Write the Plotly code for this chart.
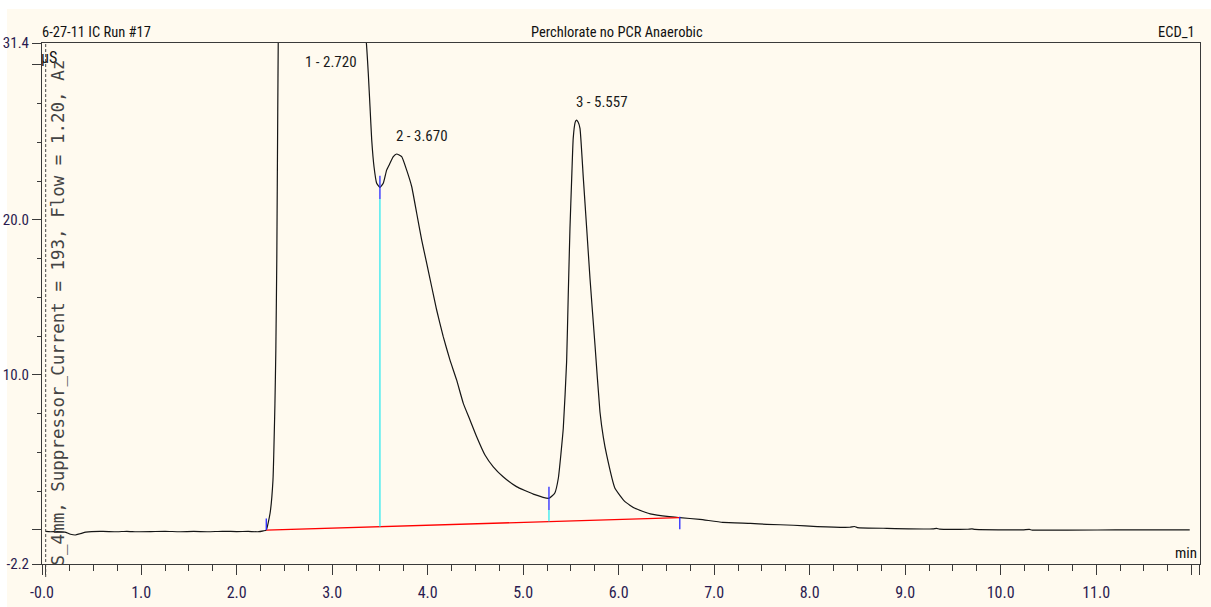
import numpy as np
import plotly.graph_objects as go

# ---------------- data ----------------
time_min = [0.00, 0.05, 0.12, 0.20, 0.26, 0.31, 0.36, 0.42, 0.48, 0.60, 0.75, 0.85, 0.95,
            1.10, 1.25, 1.40, 1.55, 1.70, 1.85, 2.00, 2.12, 2.22, 2.28, 2.31,
            2.35, 2.38, 2.40, 2.41, 2.42, 2.43, 2.435, 2.44, 2.47, 2.55, 2.72, 2.90, 3.10, 3.25, 3.32,
            3.358, 3.378, 3.396, 3.414, 3.438, 3.466, 3.50, 3.535, 3.57, 3.605, 3.64, 3.675, 3.728,
            3.78, 3.833, 3.885, 3.937, 3.99, 4.042, 4.094, 4.163, 4.233, 4.303, 4.373, 4.443, 4.513,
            4.60, 4.687, 4.79, 4.93, 5.106, 5.27,
            5.33, 5.368, 5.42, 5.455, 5.472, 5.49, 5.508, 5.524, 5.545, 5.557, 5.575, 5.595, 5.63,
            5.665, 5.70, 5.752, 5.804, 5.84, 5.874, 5.961, 6.066, 6.17,
            6.33, 6.53, 6.64, 6.85, 7.09, 7.38, 7.55, 7.83, 8.08, 8.42, 8.47, 8.50, 8.81, 9.29, 9.33,
            9.36, 9.65, 9.70, 9.73, 10.23, 10.30, 10.33, 11.20, 11.98]
signal_uS = [-0.10, -0.12, -0.11, -0.14, -0.28, -0.33, -0.25, -0.15, -0.11, -0.10, -0.12, -0.09, -0.12,
             -0.11, -0.09, -0.12, -0.10, -0.12, -0.09, -0.11, -0.10, -0.12, -0.06, -0.01,
             1.09, 3.22, 8.0, 11.6, 17.5, 27.0, 31.4, 34.0, 45.0, 62.0, 72.0, 63.0, 49.0, 39.0, 33.5,
             31.4, 29.45, 27.3, 25.14, 23.42, 22.35, 22.09, 22.35, 23.2, 23.64, 24.07, 24.24, 24.07,
             23.2, 22.13, 20.42, 18.7, 17.19, 15.68, 14.18, 12.46, 10.96, 9.67, 8.16, 7.09, 6.01,
             4.83, 4.07, 3.43, 2.79, 2.31, 2.04,
             2.36, 3.33, 6.55, 10.85, 15.15, 19.45, 22.67, 25.25, 26.3, 26.43, 26.3, 25.9, 22.67,
             19.45, 16.2, 11.92, 7.62, 5.95, 4.83, 2.68, 1.82, 1.39,
             1.03, 0.85, 0.79, 0.68, 0.49, 0.42, 0.36, 0.30, 0.21, 0.17, 0.22, 0.15, 0.10, 0.06, 0.10,
             0.05, 0.04, 0.07, 0.03, 0.00, 0.03, -0.01, 0.00, 0.00]

peak_numbers = [1, 2, 3]
peak_times = [2.720, 3.670, 5.557]
delimiter_times = [2.31, 3.50, 5.27, 6.64]
baseline_values = [-0.01, 0.79]   # at first and last delimiter

x_tick_vals = [-0.0387, 0, 1, 2, 3, 4, 5, 6, 7, 8, 9, 10, 11, 12, 12.087]
x_tick_text = ["-0.0", "", "1.0", "2.0", "3.0", "4.0", "5.0", "6.0", "7.0", "8.0", "9.0",
               "10.0", "11.0", "", "12.1"]
y_tick_vals = [-2.2, 0, 10, 20, 30, 31.4]
y_tick_text = ["-2.2", "", "10.0", "20.0", "", "31.4"]

title_left = "6-27-11 IC Run #17"
title_center = "Perchlorate no PCR Anaerobic"
title_right = "ECD_1"
y_unit = "µS"
x_unit = "min"
side_text = "S_4mm, Suppressor_Current = 193, Flow = 1.20, Az"

X_RANGE = [-0.0387, 12.0875]
Y_RANGE = [-2.2, 31.4]

# ---------------- styling ----------------
BG = "#FFFAEF"
NARROW = "Roboto Condensed, DejaVu Sans Condensed, sans-serif"
TICKCOL = "#2a1a50"

fig = go.Figure()

fig.add_trace(go.Scatter(x=time_min, y=signal_uS, mode="lines",
                         line=dict(color="#151515", width=1.2, shape="spline", smoothing=0.4),
                         hoverinfo="skip"))
fig.add_trace(go.Scatter(x=[delimiter_times[0], delimiter_times[-1]], y=baseline_values,
                         mode="lines", line=dict(color="#ff0000", width=1.3), hoverinfo="skip"))

def base_at(t):
    return float(np.interp(t, [delimiter_times[0], delimiter_times[-1]], baseline_values))

def sig_at(t):
    return float(np.interp(t, time_min, signal_uS))

TICK = 0.75
blue_x, blue_y, cyan_x, cyan_y = [], [], [], []
for i, t in enumerate(delimiter_times):
    b = base_at(t)
    if i == 0:
        blue_x += [t, t, None]; blue_y += [b, b + TICK, None]
    elif i == len(delimiter_times) - 1:
        blue_x += [t, t, None]; blue_y += [b + 0.05, b - TICK, None]
    else:
        s = sig_at(t)
        cyan_x += [t, t, None]; cyan_y += [b, s - TICK, None]
        blue_x += [t, t, None]; blue_y += [s - TICK, s + TICK, None]

fig.add_trace(go.Scatter(x=cyan_x, y=cyan_y, mode="lines",
                         line=dict(color="#22e8f0", width=1.2), hoverinfo="skip"))
fig.add_trace(go.Scatter(x=blue_x, y=blue_y, mode="lines",
                         line=dict(color="#2828ff", width=1.3), hoverinfo="skip"))

annotations = []
for n, t in zip(peak_numbers, peak_times):
    apex = min(sig_at(t), 29.0)
    annotations.append(dict(x=t, y=apex, xref="x", yref="y", text=f"{n} - {t:.3f}",
                            showarrow=False, xanchor="left", yanchor="bottom", yshift=7,
                            xshift=-2,
                            font=dict(family=NARROW, size=15, color="#1a1a1a")))

annotations += [
    dict(x=-0.002, y=1.021, xref="paper", yref="paper", text=title_left, showarrow=False,
         xanchor="left", yanchor="middle", font=dict(family=NARROW, size=14.5, color="#111")),
    dict(x=0.4965, y=1.021, xref="paper", yref="paper", text=title_center, showarrow=False,
         xanchor="center", yanchor="middle", font=dict(family=NARROW, size=14.5, color="#111")),
    dict(x=0.9975, y=1.021, xref="paper", yref="paper", text=title_right, showarrow=False,
         xanchor="right", yanchor="middle", font=dict(family=NARROW, size=14.5, color="#111")),
    dict(x=-0.003, y=0.973, xref="paper", yref="paper", text=y_unit, showarrow=False,
         xanchor="left", yanchor="middle", font=dict(family=NARROW, size=16, color="#111")),
    dict(x=0.9995, y=0.021, xref="paper", yref="paper", text=x_unit, showarrow=False,
         xanchor="right", yanchor="middle", font=dict(family=NARROW, size=15, color="#111")),
    dict(x=0.0135, y=0.482, xref="paper", yref="paper", text=side_text, showarrow=False,
         textangle=-90, xanchor="center", yanchor="middle",
         font=dict(family="DejaVu Sans Mono, monospace", size=17.5, color="#444")),
]

shapes = [
    dict(type="line", xref="x", yref="paper", x0=0, x1=0, y0=-0.025, y1=1.0,
         line=dict(color="#444", width=1, dash="3px,2px")),
    dict(type="rect", xref="paper", yref="paper", x0=-0.04, x1=1.02, y0=1.0653, y1=1.09,
         fillcolor="white", line=dict(width=0), layer="below"),
    dict(type="rect", xref="paper", yref="paper", x0=-0.04, x1=-0.0302, y0=-0.09, y1=1.09,
         fillcolor="white", line=dict(width=0), layer="below"),
]

fig.update_layout(
    width=1211, height=607, autosize=False,
    margin=dict(l=42, r=11, t=43, b=43, autoexpand=False),
    paper_bgcolor=BG, plot_bgcolor=BG, showlegend=False,
    annotations=annotations, shapes=shapes,
    xaxis=dict(range=X_RANGE, showgrid=False, zeroline=False, showline=True, mirror=True,
               automargin=False,
               linecolor="#3a3a3a", linewidth=1, ticks="outside", ticklen=10,
               tickcolor="#3a3a3a", tickmode="array", tickvals=x_tick_vals, ticktext=x_tick_text,
               tickfont=dict(family=NARROW, size=16, color=TICKCOL), ticklabelstandoff=4,
               minor=dict(ticks="outside", ticklen=6, dtick=0.25, tick0=0, tickcolor="#3a3a3a",
                          showgrid=False)),
    yaxis=dict(range=Y_RANGE, showgrid=False, zeroline=False, showline=True, mirror=True,
               automargin=False,
               linecolor="#3a3a3a", linewidth=1, ticks="outside", ticklen=9,
               tickcolor="#3a3a3a", tickmode="array", tickvals=y_tick_vals, ticktext=y_tick_text,
               tickfont=dict(family=NARROW, size=15, color=TICKCOL), ticklabelstandoff=0,
               minor=dict(ticks="outside", ticklen=4, dtick=2.5, tick0=0, tickcolor="#3a3a3a",
                          showgrid=False)),
)

fig.write_html("out.html")
